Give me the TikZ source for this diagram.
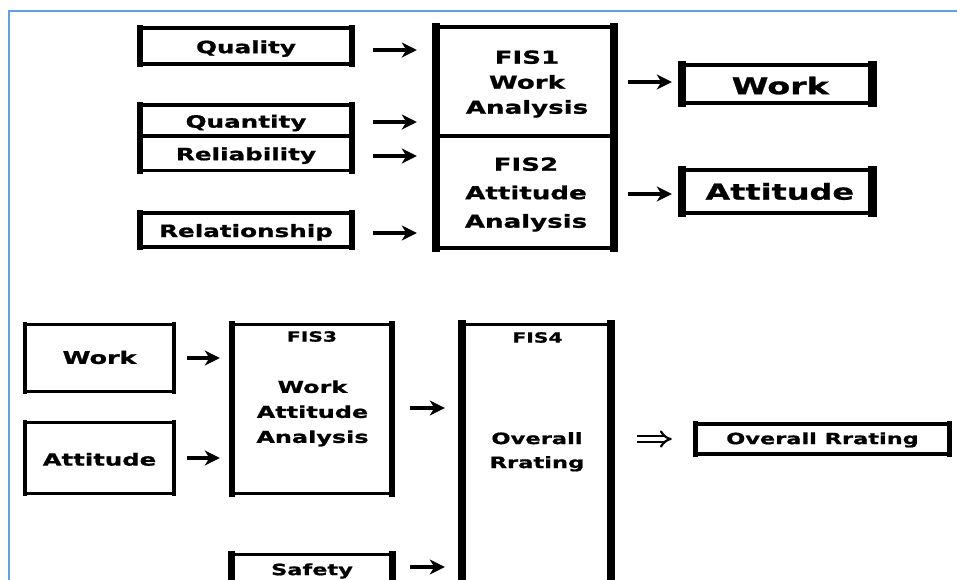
\documentclass[tikz,border=0pt]{standalone}
\usepackage{fontspec}
\newfontfamily\boxfont[FakeStretch=1.45,FakeBold=1]{DejaVu Sans}
\usetikzlibrary{arrows.meta}
\definecolor{edgeblue}{RGB}{100,160,225}

% frame of a box: thin top and bottom rules, heavy side bars
\newcommand\boxedges[3]{%
  \draw[line width=#3] (#1.north west) -- (#1.north east) (#1.south west) -- (#1.south east);
  \draw[line width=#2, line cap=rect] (#1.north west) -- (#1.south west) (#1.north east) -- (#1.south east);}

\tikzset{
  box/.style={draw=none, inner sep=0pt, align=center},
  fsz/.style 2 args={font=\boxfont\bfseries\fontsize{#1}{#2}\selectfont},
  tb/.style={text height=#1, text depth=0pt},
  arr/.style={line width=3.3pt, -{Stealth[length=15pt,width=15pt,inset=4.5pt]}},
  dbl/.style={double, double distance=3.5pt, line width=2.2pt, -{Implies}},
}

\begin{document}
\begin{tikzpicture}[x=1pt,y=-1pt]
\useasboundingbox (0,0) rectangle (957,580);
\clip (0,0) rectangle (957,580);
\fill[white] (0,0) rectangle (957,580);
\draw[edgeblue, line width=2pt] (9,585) -- (9,11) -- (960,11);

% ---- first stage: FIS1 and FIS2 ----
\node[box, fsz={17}{20}, tb=14.4pt, minimum width=212pt, minimum height=36pt] (quality) at (246,46) {Quality};
\node[box, fsz={17}{20}, tb=14.4pt, minimum width=212pt, minimum height=31pt] (quantity) at (246,120.5) {Quantity};
\node[box, fsz={17}{20}, tb=14pt, minimum width=212pt, minimum height=34.5pt] (reliability) at (246,153.25) {Reliability};
\node[box, fsz={17}{20}, tb=14pt, minimum width=212pt, minimum height=34pt] (relationship) at (246,230) {Relationship};

\node[box, minimum width=177.5pt, minimum height=109pt] (fis1) at (525.25,81.5) {};
\node[box, minimum width=177.5pt, minimum height=112pt] (fis2) at (525.25,192) {};
\node[box, fsz={18}{25}] (fis1text) at (527,84) {FIS1\\Work\\Analysis};
\node[box, fsz={18}{28.5}] (fis2text) at (526,194.5) {FIS2\\Attitude\\Analysis};

\node[box, fsz={23}{26}, tb=20.4pt, minimum width=190.5pt, minimum height=38pt] (work1) at (777.25,84) {\hspace*{6pt}Work};
\node[box, fsz={22}{26}, tb=16.4pt, minimum width=190.5pt, minimum height=42pt] (attitude1) at (777.25,191.5) {\hspace*{5pt}Attitude};

\boxedges{quality}{6pt}{3.5pt}
\boxedges{quantity}{6pt}{3.5pt}
\boxedges{reliability}{6pt}{3.5pt}
\boxedges{relationship}{6pt}{3.5pt}
\boxedges{fis1}{7.8pt}{3.5pt}
\boxedges{fis2}{7.8pt}{3.5pt}
\boxedges{work1}{8.5pt}{3.8pt}
\boxedges{attitude1}{8.5pt}{3.8pt}

\draw[arr, shorten <=21pt, shorten >=19.5pt] ([yshift=-4pt]quality.east) -- ([yshift=-4pt]quality.east -| fis1.west);
\draw[arr, shorten <=21pt, shorten >=19.5pt] ([yshift=-1.5pt]quantity.east) -- ([yshift=-1.5pt]quantity.east -| fis1.west);
\draw[arr, shorten <=21pt, shorten >=19.5pt] ([yshift=-2.75pt]reliability.east) -- ([yshift=-2.75pt]reliability.east -| fis2.west);
\draw[arr, shorten <=21pt, shorten >=19.5pt] ([yshift=-3pt]relationship.east) -- ([yshift=-3pt]relationship.east -| fis2.west);
\draw[arr, shorten <=14pt, shorten >=10pt] ([yshift=-0.5pt]fis1.east) -- ([yshift=-0.5pt]fis1.east -| work1.west);
\draw[arr, shorten <=14pt, shorten >=10pt] ([yshift=-2pt]fis2.east) -- ([yshift=-2pt]fis2.east -| attitude1.west);

% ---- second stage: FIS3 and FIS4 ----
\node[box, fsz={17.5}{20}, tb=11.8pt, minimum width=149pt, minimum height=67pt] (work2) at (99.5,358) {Work};
\node[box, fsz={16.8}{20}, tb=15.2pt, minimum width=149pt, minimum height=71pt] (attitude2) at (99.5,458) {Attitude};

\node[box, minimum width=160pt, minimum height=169pt] (fis3) at (312,409) {};
\node[box, fsz={14}{18}] (fis3title) at (312,336.5) {FIS3};
\node[box, fsz={16.5}{25}] (fis3body) at (312.5,413.4) {Work\\Attitude\\Analysis};

\node[box, fsz={15.5}{20}, tb=11.3pt, minimum width=160pt, minimum height=30pt] (safety) at (312,569.5) {Safety};

\node[box, minimum width=148.5pt, minimum height=275pt] (fis4) at (536.75,462) {};
\node[box, fsz={14}{18}] (fis4title) at (537.5,337.5) {FIS4};
\node[box, fsz={15.6}{24}] (fis4body) at (537,451.8) {Overall\\Rrating};

\node[box, fsz={15.5}{20}, tb=10.3pt, minimum width=254pt, minimum height=30pt] (overall) at (822.5,439) {Overall Rrating};

\boxedges{work2}{4pt}{3.5pt}
\boxedges{attitude2}{4pt}{3.5pt}
\boxedges{fis3}{6.5pt}{3.5pt}
\boxedges{safety}{7pt}{3.5pt}
\boxedges{fis4}{8pt}{3.5pt}
\boxedges{overall}{5pt}{3.5pt}

\draw[arr, shorten <=13pt, shorten >=12pt] (work2.east) -- (work2.east -| fis3.west);
\draw[arr, shorten <=13pt, shorten >=12pt] (attitude2.east) -- (attitude2.east -| fis3.west);
\draw[arr, shorten <=18pt, shorten >=17.5pt] ([yshift=1pt]fis3.east) -- ([yshift=1pt]fis3.east -| fis4.west);
\draw[arr, shorten <=18pt, shorten >=17.5pt] ([yshift=2.5pt]safety.east) -- ([yshift=2.5pt]safety.east -| fis4.west);
\draw[dbl, shorten <=26pt, shorten >=23.5pt] (overall.west -| fis4.east) -- (overall.west);
\end{tikzpicture}
\end{document}
